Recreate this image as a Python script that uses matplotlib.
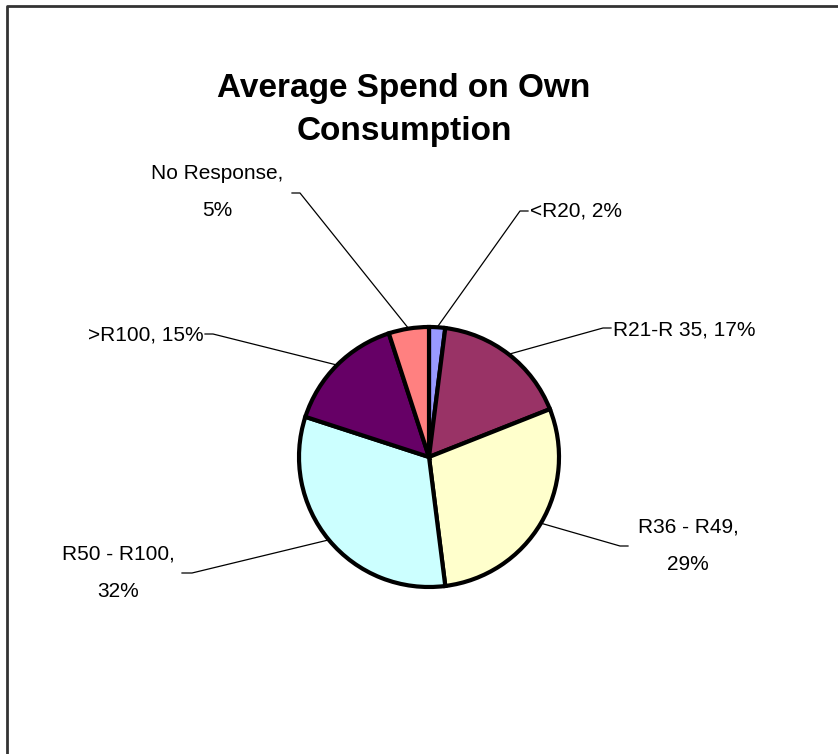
import matplotlib.pyplot as plt
import numpy as np

categories = ['<R20', 'R21-R 35', 'R36 - R49', 'R50 - R100', '>R100', 'No Response']
shares = [2, 17, 29, 32, 15, 5]
colors = ['#9999FF', '#993366', '#FFFFCC', '#CCFFFF', '#660066', '#FF8080']

W, H = 838, 754
fig = plt.figure(figsize=(W / 100, H / 100), dpi=100)
ax = fig.add_axes([0, 0, 1, 1])

cx, cy, r = 429, H - 457, 130
wedges, _ = ax.pie(shares, colors=colors, startangle=90, counterclock=False,
                   center=(cx, cy), radius=r,
                   wedgeprops=dict(edgecolor='black', linewidth=3))

ax.set_xlim(0, W)
ax.set_ylim(0, H)
ax.set_aspect('equal')
ax.axis('off')

# label layout: (elbow x, elbow y, stub end x, text x, text y, ha, two-line)
layout = [
    (520, 211, 528, 530, 211, 'left', False),
    (603, 328, 611, 613, 330, 'left', False),
    (620, 546, 628, 688, 546, 'center', True),
    (192, 573, 182, 118, 573, 'center', True),
    (213, 334, 205, 204, 335, 'right', False),
    (300, 193, 292, 217, 192, 'center', True),
]

for w, cat, pct, (ex, ey, sx, tx, ty, ha, split) in zip(wedges, categories, shares, layout):
    mid = np.deg2rad((w.theta1 + w.theta2) / 2)
    px, py = cx + r * np.cos(mid), cy + r * np.sin(mid)
    ax.plot([px, ex, sx], [py, H - ey, H - ey], color='black', lw=0.9)
    sep = ',\n' if split else ', '
    ax.text(tx, H - ty, f'{cat}{sep}{pct}%', ha=ha, va='center',
            fontsize=15, family='Liberation Sans', linespacing=2.25)

ax.text(404, H - 110, 'Average Spend on Own\nConsumption', ha='center', va='center',
        fontsize=24, fontweight='bold', family='Liberation Sans', linespacing=1.5)

# chart area border (top and left edges visible)
ax.plot([7, 7, W], [0, H - 6, H - 6], color='#333333', lw=2, solid_capstyle='butt')

fig.savefig('out.png', dpi=100)
